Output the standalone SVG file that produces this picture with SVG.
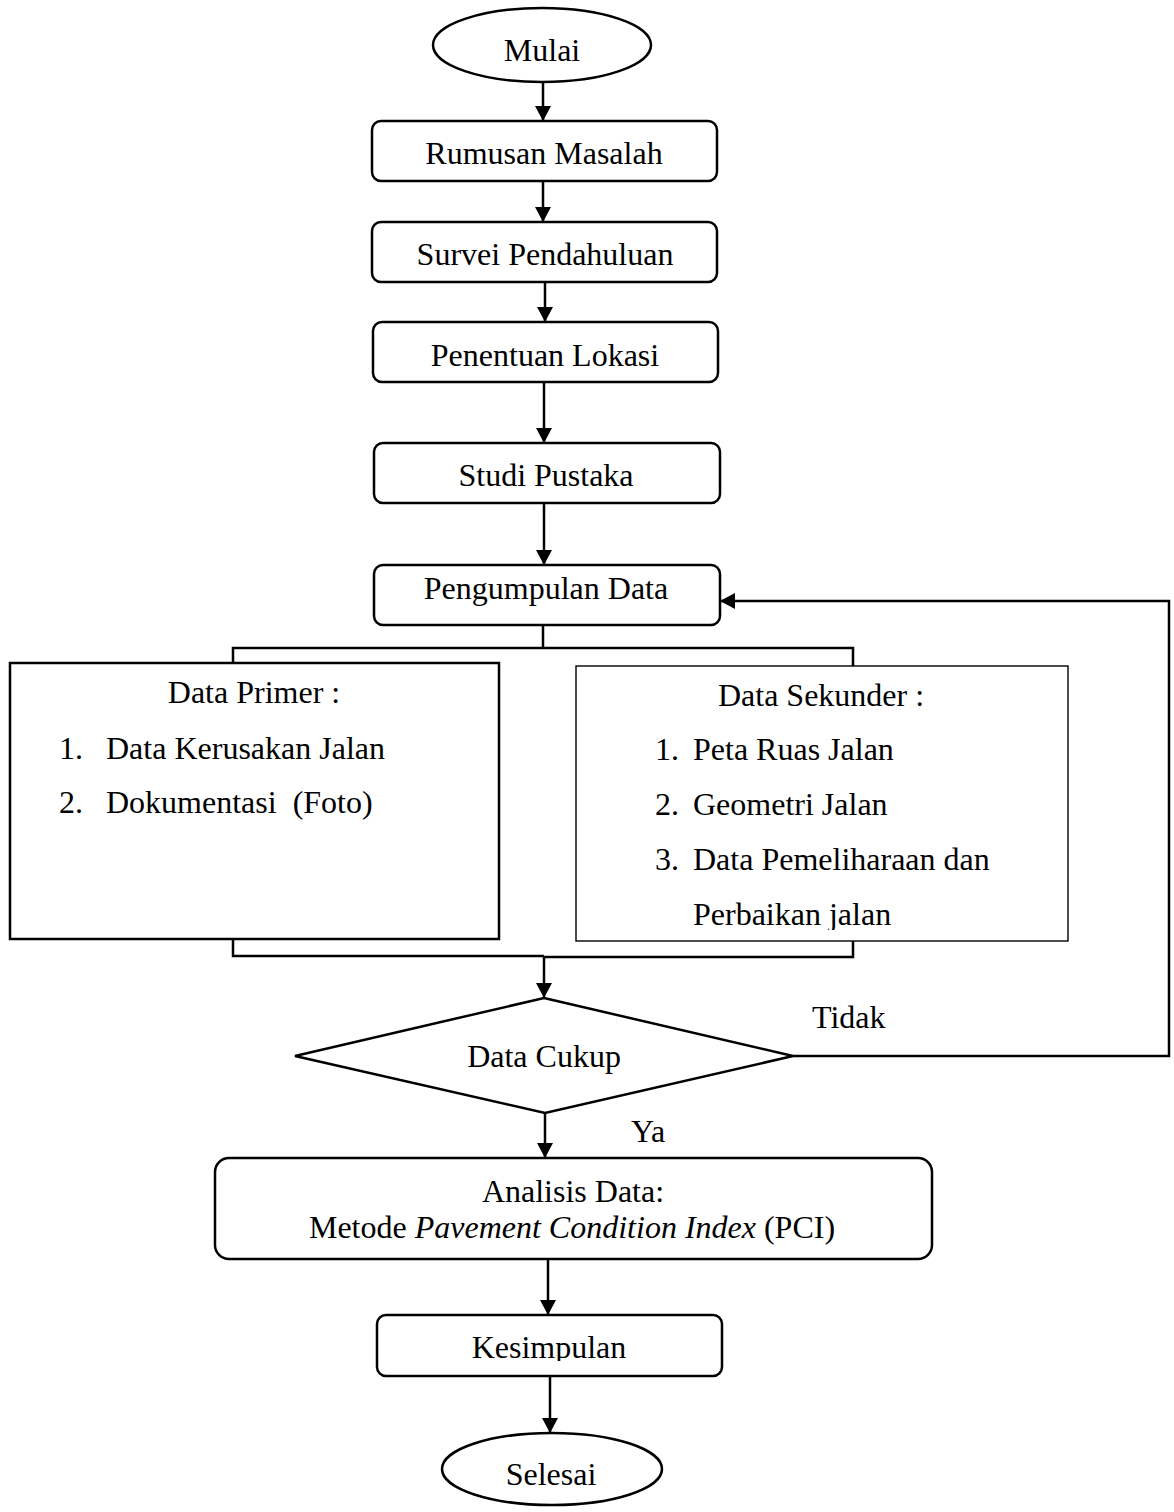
<svg xmlns="http://www.w3.org/2000/svg" width="1174" height="1512" viewBox="0 0 1174 1512">
<style>
  .shape { fill: #ffffff; stroke: #000000; stroke-width: 2.5; }
  .thin { fill: #ffffff; stroke: #000000; stroke-width: 1.4; }
  .conn { fill: none; stroke: #000000; stroke-width: 2.5; }
  .arrow { fill: none; stroke: #000000; stroke-width: 2.5; marker-end: url(#ah); }
  text { font-family: "Liberation Serif", "Times New Roman", serif; font-size: 32px; fill: #000000; }
  .c { text-anchor: middle; }
</style>
<defs>
  <marker id="ah" markerUnits="userSpaceOnUse" markerWidth="16" markerHeight="16" refX="15" refY="8" orient="auto">
    <path d="M0,0 L15,8 L0,16 z" fill="#000000"/>
  </marker>
  <clipPath id="clipSek"><rect x="576" y="666" width="492" height="264"/></clipPath>
  <clipPath id="clipYa"><rect x="600" y="1100" width="100" height="44"/></clipPath>
  <clipPath id="clipKes"><rect x="377" y="1315" width="345" height="46"/></clipPath>
</defs>
<rect width="1174" height="1512" fill="#ffffff"/>

<g id="connectors">
  <line class="arrow" x1="543" y1="82" x2="543" y2="121"/>
  <line class="arrow" x1="543" y1="181" x2="543" y2="222"/>
  <line class="arrow" x1="545" y1="282" x2="545" y2="322"/>
  <line class="arrow" x1="544" y1="382" x2="544" y2="443"/>
  <line class="arrow" x1="544" y1="503" x2="544" y2="565"/>
  <polyline class="conn" points="543,625 543,648"/>
  <polyline class="conn" points="233,663 233,648 853,648 853,666"/>
  <polyline class="conn" points="233,939 233,956 544,956"/>
  <polyline class="conn" points="853,941 853,957 544,957"/>
  <line class="arrow" x1="544" y1="957" x2="544" y2="998"/>
  <polyline class="arrow" points="793,1056 1169,1056 1169,601 720,601"/>
  <line class="arrow" x1="545" y1="1113" x2="545" y2="1158"/>
  <line class="arrow" x1="548" y1="1259" x2="548" y2="1315"/>
  <line class="arrow" x1="550" y1="1376" x2="550" y2="1433"/>
  <text x="812" y="1028">Tidak</text>
  <text x="631" y="1142" clip-path="url(#clipYa)">Ya</text>
</g>

<g id="mulai">
  <ellipse class="shape" cx="542" cy="45" rx="109" ry="37"/>
  <text class="c" x="542" y="61">Mulai</text>
</g>
<g id="rumusan">
  <rect class="shape" x="372" y="121" width="345" height="60" rx="9"/>
  <text class="c" x="544" y="164">Rumusan Masalah</text>
</g>
<g id="survei">
  <rect class="shape" x="372" y="222" width="345" height="60" rx="9"/>
  <text class="c" x="545" y="265">Survei Pendahuluan</text>
</g>
<g id="penentuan">
  <rect class="shape" x="373" y="322" width="345" height="60" rx="9"/>
  <text class="c" x="545" y="366">Penentuan Lokasi</text>
</g>
<g id="studi">
  <rect class="shape" x="374" y="443" width="346" height="60" rx="9"/>
  <text class="c" x="546" y="486">Studi Pustaka</text>
</g>
<g id="pengumpulan">
  <rect class="shape" x="374" y="565" width="346" height="60" rx="9"/>
  <text class="c" x="546" y="599">Pengumpulan Data</text>
</g>
<g id="primer">
  <rect class="shape" x="10" y="663" width="489" height="276"/>
  <text class="c" x="254" y="703">Data Primer :</text>
  <text x="59" y="759">1.</text>
  <text x="106" y="759">Data Kerusakan Jalan</text>
  <text x="59" y="813">2.</text>
  <text x="106" y="813" xml:space="preserve">Dokumentasi  (Foto)</text>
</g>
<g id="sekunder">
  <rect class="thin" x="576" y="666" width="492" height="275"/>
  <text class="c" x="821" y="706">Data Sekunder :</text>
  <text x="655" y="760">1.</text>
  <text x="693" y="760">Peta Ruas Jalan</text>
  <text x="655" y="815">2.</text>
  <text x="693" y="815">Geometri Jalan</text>
  <text x="655" y="870">3.</text>
  <text x="693" y="870">Data Pemeliharaan dan</text>
  <text x="693" y="925" clip-path="url(#clipSek)">Perbaikan jalan</text>
</g>
<g id="cukup">
  <polygon class="shape" points="544,998 793,1056 545,1113 295,1056"/>
  <text class="c" x="544" y="1067">Data Cukup</text>
</g>
<g id="analisis">
  <rect class="shape" x="215" y="1158" width="717" height="101" rx="14"/>
  <text class="c" x="573" y="1202">Analisis Data:</text>
  <text class="c" x="572" y="1238">Metode <tspan font-style="italic">Pavement Condition Index</tspan> (PCI)</text>
</g>
<g id="kesimpulan">
  <rect class="shape" x="377" y="1315" width="345" height="61" rx="9"/>
  <text class="c" x="549" y="1358" clip-path="url(#clipKes)">Kesimpulan</text>
</g>
<g id="selesai">
  <ellipse class="shape" cx="552" cy="1469" rx="110" ry="36"/>
  <text class="c" x="551" y="1485">Selesai</text>
</g>
</svg>
